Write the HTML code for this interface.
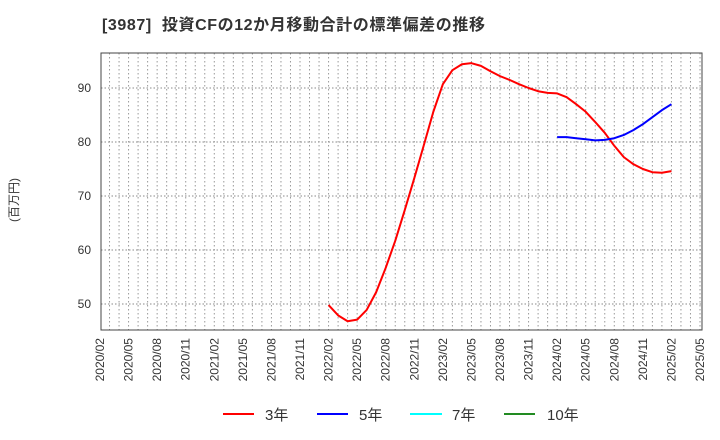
<!DOCTYPE html>
<html><head><meta charset="utf-8"><style>
body{margin:0;background:#fff;}
svg{display:block;font-family:"Liberation Sans","Noto Sans CJK JP",sans-serif;}
</style></head><body>
<svg id="chart" width="720" height="440">
<text x="102" y="30" font-size="16" font-weight="bold" fill="#333" textLength="383" lengthAdjust="spacing" xml:space="preserve">[3987]  投資CFの12か月移動合計の標準偏差の推移</text>
<text transform="translate(18,200) rotate(-90)" text-anchor="middle" font-size="12" fill="#333">(百万円)</text>
<g id="grid"></g><g id="axes"></g><g id="series"></g>
<g>
<g><line x1="223" y1="414" x2="254" y2="414" stroke="#ff0000" stroke-width="2"/><text x="265" y="420" font-size="15" fill="#333">3年</text></g>
<g><line x1="317" y1="414" x2="348" y2="414" stroke="#0000ff" stroke-width="2"/><text x="359" y="420" font-size="15" fill="#333">5年</text></g>
<g><line x1="410" y1="414" x2="442" y2="414" stroke="#00ffff" stroke-width="2"/><text x="452" y="420" font-size="15" fill="#333">7年</text></g>
<g><line x1="504" y1="414" x2="535" y2="414" stroke="#228b22" stroke-width="2"/><text x="547" y="420" font-size="15" fill="#333">10年</text></g>
</g>
</svg>
<script>
const yTicks=[50,60,70,80,90];
const xTickLabels=["2020/02","2020/05","2020/08","2020/11","2021/02","2021/05","2021/08","2021/11","2022/02","2022/05","2022/08","2022/11","2023/02","2023/05","2023/08","2023/11","2024/02","2024/05","2024/08","2024/11","2025/02","2025/05"];
const series3Start=24;
const series3=[49.8,47.9,46.8,47.1,48.9,52.2,56.7,61.7,67.4,73.3,79.4,85.6,90.7,93.3,94.4,94.6,94.1,93.1,92.2,91.5,90.7,90.0,89.4,89.1,89.0,88.3,87.0,85.6,83.7,81.7,79.3,77.2,75.9,75.0,74.4,74.3,74.6];
const series5Start=48;
const series5=[80.9,80.9,80.7,80.5,80.3,80.4,80.7,81.3,82.2,83.3,84.6,85.9,87.0];
const NS="http://www.w3.org/2000/svg";
const L=101,R=702,T=53,B=330;
const x=m=>100+m*(600/63);
const y=v=>88+(90-v)*5.4;
function mk(tag,attrs,parent){const e=document.createElementNS(NS,tag);for(const k in attrs)e.setAttribute(k,attrs[k]);parent.appendChild(e);return e;}
const grid=document.getElementById('grid'),axes=document.getElementById('axes'),ser=document.getElementById('series');
for(let m=0;x(m)<R;m++){const gx=x(m);if(gx<=L+0.5)continue;
 const l=mk('line',{x1:gx,y1:T,x2:gx,y2:B,stroke:'#999','stroke-dasharray':'1.5,2.5','stroke-width':1},grid);
 
 }
yTicks.forEach(v=>{const l=mk('line',{x1:L,y1:y(v),x2:R,y2:y(v),stroke:'#888','stroke-dasharray':'1.5,2','stroke-width':1},grid);
 
 
 const t=mk('text',{x:L-10,y:y(v)+4,'text-anchor':'end','font-size':12,fill:'#333'},axes);t.textContent=v;
 
 });
const frame=mk('rect',{x:L,y:T,width:R-L,height:B-T,fill:'none',stroke:'#444','stroke-width':1},axes);


xTickLabels.forEach((s,i)=>{const tx=x(i*3);
 const t=mk('text',{transform:`translate(${tx+4},${B+8}) rotate(-90)`,'text-anchor':'end','font-size':12,fill:'#333'},axes);t.textContent=s;
 
 });
function line(data,start,color,name){const p=mk('polyline',{points:data.map((v,i)=>x(start+i)+','+y(v)).join(' '),fill:'none',stroke:color,'stroke-width':2,'stroke-linejoin':'round'},ser);
 
 }
line(series3,series3Start,'#ff0000','series-3y-line');
line(series5,series5Start,'#0000ff','series-5y-line');
</script>
</body></html>
